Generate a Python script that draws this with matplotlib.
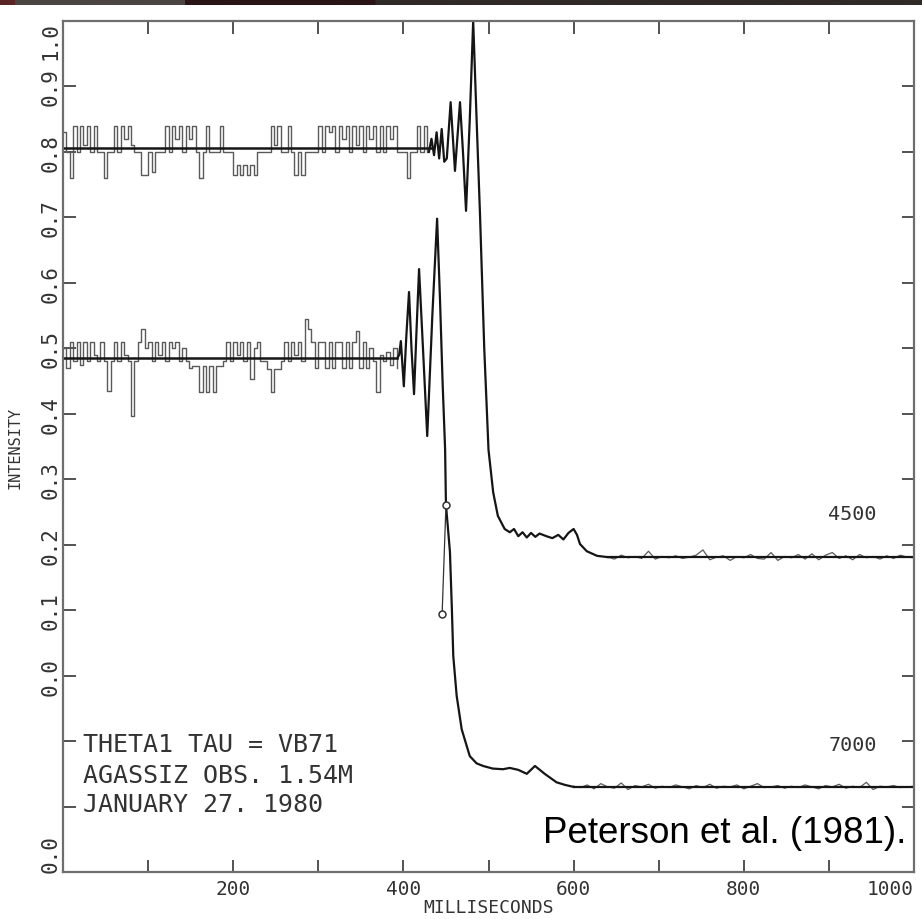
import numpy as np
import matplotlib
matplotlib.use("Agg")
import matplotlib.pyplot as plt

# ---------------- data ----------------
# vertical offset of the 4500 trace (its "0.0" sits at 0.3 of the 7000 trace)
OFFSET_4500 = 0.3

# pre-occultation step data, 4 ms sampling starting at 0 ms
T0_STEP = 0.0
DT_STEP = 4.0
pre_4500 = [0.83, 0.80, 0.76, 0.84, 0.80, 0.84, 0.81, 0.84, 0.80, 0.84,
            0.80, 0.80, 0.76, 0.80, 0.80, 0.84, 0.80, 0.84, 0.82, 0.84,
            0.81, 0.80, 0.80, 0.765, 0.765, 0.80, 0.77, 0.80, 0.80, 0.80,
            0.84, 0.80, 0.84, 0.82, 0.84, 0.80, 0.84, 0.82, 0.84, 0.80,
            0.76, 0.80, 0.84, 0.80, 0.80, 0.80, 0.84, 0.80, 0.80, 0.80,
            0.765, 0.78, 0.765, 0.78, 0.765, 0.78, 0.765, 0.80, 0.80, 0.80,
            0.80, 0.84, 0.81, 0.84, 0.80, 0.80, 0.84, 0.80, 0.765, 0.80,
            0.765, 0.80, 0.80, 0.80, 0.80, 0.84, 0.80, 0.84, 0.83, 0.84,
            0.80, 0.84, 0.82, 0.84, 0.80, 0.84, 0.81, 0.84, 0.80, 0.84,
            0.82, 0.84, 0.80, 0.84, 0.80, 0.84, 0.82, 0.84, 0.80, 0.80,
            0.80, 0.76, 0.80, 0.80, 0.84, 0.80, 0.84, 0.80]
pre_7000 = [0.80, 0.77, 0.81, 0.78, 0.81, 0.775, 0.81, 0.78, 0.81, 0.79,
            0.78, 0.81, 0.78, 0.735, 0.78, 0.81, 0.78, 0.81, 0.79, 0.78,
            0.697, 0.78, 0.81, 0.83, 0.80, 0.81, 0.78, 0.81, 0.79, 0.81,
            0.78, 0.81, 0.80, 0.81, 0.78, 0.80, 0.78, 0.77, 0.773, 0.773,
            0.733, 0.773, 0.733, 0.773, 0.733, 0.773, 0.773, 0.78, 0.81, 0.78,
            0.81, 0.79, 0.81, 0.78, 0.81, 0.753, 0.80, 0.81, 0.78, 0.78,
            0.768, 0.733, 0.768, 0.768, 0.78, 0.81, 0.78, 0.81, 0.79, 0.81,
            0.78, 0.845, 0.83, 0.81, 0.77, 0.81, 0.81, 0.77, 0.81, 0.77,
            0.81, 0.81, 0.77, 0.81, 0.77, 0.81, 0.826, 0.77, 0.81, 0.77,
            0.80, 0.78, 0.733, 0.79, 0.78, 0.795, 0.775, 0.80, 0.77]

# fitted pre-occultation levels and where they end (ms)
level_4500 = 0.806
level_end_4500 = 435.0
level_7000 = 0.785
level_end_7000 = 393.0

# fringe / disappearance traces (ms, intensity)
fringe_t_4500 = [430, 433, 436, 439, 442, 445, 448, 451, 455.5, 460.6, 466.5,
                 470, 473.6, 478, 482, 486, 490, 495, 500, 505.5, 511, 519,
                 525, 530, 535, 540, 545, 550, 555, 560, 568, 575, 582, 588,
                 594, 600, 604, 607.5, 615.5, 627.5, 640]
fringe_v_4500 = [0.80, 0.82, 0.795, 0.83, 0.79, 0.835, 0.785, 0.79, 0.876, 0.771, 0.876,
                 0.80, 0.71, 0.85, 1.0, 0.85, 0.705, 0.50, 0.345, 0.280, 0.244, 0.224,
                 0.219, 0.224, 0.213, 0.219, 0.211, 0.218, 0.212, 0.217, 0.213, 0.210, 0.215, 0.208,
                 0.218, 0.224, 0.215, 0.201, 0.190, 0.183, 0.181]
fringe_t_7000 = [393, 395, 397, 400.5, 403.5, 406.6, 409.5, 412.5, 415.5, 418.4,
                 423, 428, 434, 439.6, 443, 446, 449, 450, 454.7, 457, 458.6,
                 462.6, 468.5, 478, 486, 493.6, 505, 517, 525, 535, 545, 554.6,
                 566, 580, 590, 600]
fringe_v_7000 = [0.785, 0.79, 0.811, 0.742, 0.82, 0.886, 0.80, 0.730, 0.83, 0.921,
                 0.80, 0.666, 0.85, 0.998, 0.875, 0.75, 0.646, 0.561, 0.489, 0.40, 0.330,
                 0.269, 0.218, 0.177, 0.166, 0.162, 0.158, 0.157, 0.159, 0.156, 0.150, 0.162,
                 0.150, 0.137, 0.133, 0.130]

# post-occultation noise, 8 ms sampling
T0_POST_4500 = 640.0
post_4500 = [0.181, 0.178, 0.184, 0.180, 0.182, 0.179, 0.190, 0.178, 0.182, 0.180,
             0.183, 0.179, 0.181, 0.184, 0.192, 0.177, 0.181, 0.183, 0.176, 0.182,
             0.180, 0.185, 0.179, 0.178, 0.188, 0.176, 0.182, 0.180, 0.185, 0.178,
             0.186, 0.177, 0.184, 0.188, 0.179, 0.183, 0.177, 0.185, 0.180, 0.182,
             0.178, 0.183, 0.179, 0.184, 0.181, 0.180]
T0_POST_7000 = 600.0
post_7000 = [0.131, 0.129, 0.133, 0.127, 0.135, 0.130, 0.128, 0.136, 0.126, 0.132,
             0.130, 0.134, 0.128, 0.131, 0.129, 0.133, 0.130, 0.127, 0.132, 0.129,
             0.134, 0.128, 0.131, 0.130, 0.133, 0.127, 0.131, 0.135, 0.129, 0.130,
             0.132, 0.128, 0.131, 0.129, 0.133, 0.130, 0.127, 0.132, 0.130, 0.134,
             0.128, 0.131, 0.129, 0.137, 0.126, 0.131, 0.130, 0.132, 0.129, 0.130,
             0.131]
DT_POST = 8.0
post_level_4500 = 0.181
post_level_7000 = 0.130

# the two marked points on the 7000 trace
mark_t = [450.0, 445.5]
mark_v = [0.561, 0.394]

ytick_labels = ["0.0", "", "", "0.0", "0.1", "0.2", "0.3", "0.4", "0.5",
                "0.6", "0.7", "0.8", "0.9", "1.0"]
xtick_major = [200, 400, 600, 800, 1000]
xtick_minor = [100, 300, 500, 700, 900]
info_lines = ["THETA1 TAU = VB71", "AGASSIZ OBS. 1.54M", "JANUARY 27. 1980"]
info_y = [0.1955, 0.148, 0.104]

# ---------------- figure ----------------
W, H = 922, 920
fig = plt.figure(figsize=(W / 100, H / 100), dpi=100)
fig.patch.set_facecolor("white")

# dark strip at the very top (slide background)
bar = fig.add_axes([0, 1 - 6 / H, 1, 6 / H])
bar.axis("off")
strip = np.zeros((1, W, 3))
segs = [(0, 15, "#5a2424"), (15, 185, "#4b4542"), (185, 375, "#2b1416"), (375, W, "#2f2927")]
for a, b, c in segs:
    strip[0, a:b] = matplotlib.colors.to_rgb(c)
bar.imshow(strip, aspect="auto", extent=(0, 1, 0, 1))

ax = fig.add_axes([63 / W, 47 / H, 851 / W, 851 / H])
ax.set_xlim(0, 1000)
ax.set_ylim(0, 1.3)

data_c = "#5a5a5a"
fit_c = "#151515"
mono = "DejaVu Sans Mono"

def step_t(vals, t0, dt):
    return t0 + dt * np.arange(len(vals))

# 4500 trace
t = step_t(pre_4500, T0_STEP, DT_STEP)
ax.plot(t, np.array(pre_4500) + OFFSET_4500, drawstyle="steps-post", color=data_c, lw=1.0)
ax.plot([0, level_end_4500], [level_4500 + OFFSET_4500] * 2, color=fit_c, lw=1.8)
ax.plot(fringe_t_4500, np.array(fringe_v_4500) + OFFSET_4500, color=fit_c, lw=1.6)
tp = step_t(post_4500, T0_POST_4500, DT_POST)
ax.plot(tp, np.array(post_4500) + OFFSET_4500, color=data_c, lw=0.9)
ax.plot([fringe_t_4500[-1], 1000], [post_level_4500 + OFFSET_4500] * 2, color=fit_c, lw=1.6)

# 7000 trace
t = step_t(pre_7000, T0_STEP, DT_STEP)
ax.plot(t, pre_7000, drawstyle="steps-post", color=data_c, lw=1.0)
ax.plot([0, level_end_7000], [level_7000] * 2, color=fit_c, lw=1.8)
ax.plot(fringe_t_7000, fringe_v_7000, color=fit_c, lw=1.6)
tp = step_t(post_7000, T0_POST_7000, DT_POST)
ax.plot(tp, post_7000, color=data_c, lw=0.9)
ax.plot([fringe_t_7000[-1], 1000], [post_level_7000] * 2, color=fit_c, lw=1.6)
ax.plot(mark_t, mark_v, color="#333333", lw=0.9, marker="o", ms=5,
        mfc="white", mec="#333333", mew=1.1)

# axes styling
for s in ax.spines.values():
    s.set_color("#6e6e6e")
    s.set_linewidth(1.6)

ax.set_yticks(np.round(np.arange(0, 1.31, 0.1), 1))
ax.set_yticklabels(ytick_labels, rotation=90, family=mono, fontsize=15, color="#333333")
for lab in ax.get_yticklabels():
    lab.set_va("center")
ax.get_yticklabels()[0].set_va("bottom")
ax.get_yticklabels()[-1].set_va("top")

ax.set_xticks(xtick_major)
ax.set_xticks(xtick_minor, minor=True)
ax.set_xticklabels([str(v) for v in xtick_major], family=mono, fontsize=14, color="#333333")
ax.get_xticklabels()[-1].set_ha("right")

ax.tick_params(axis="both", which="both", direction="in", length=9, width=1.3,
               color="#444444", top=True, right=True)
ax.tick_params(axis="y", pad=2)
ax.tick_params(axis="x", pad=5)

ax.set_xlabel("MILLISECONDS", family=mono, fontsize=13, color="#333333", va="center")
ax.xaxis.set_label_coords(0.5, -(908 - 873) / 851)
ax.set_ylabel("INTENSITY", family=mono, fontsize=11, color="#333333", va="center")
ax.yaxis.set_label_coords((15 - 63) / 851, 0.5)

# annotations
for line, yv in zip(info_lines, info_y):
    ax.text(23.5, yv, line, family=mono, fontsize=18,
            color="#333333", ha="left", va="center")
ax.text(956.5, 0.547, "4500", family=mono, fontsize=14.5, color="#333333", ha="right", va="center")
ax.text(956.5, 0.1955, "7000", family=mono, fontsize=14.5, color="#333333", ha="right", va="center")
ax.text(991.5, 0.061, "Peterson et al. (1981).", family="Liberation Sans", fontsize=26.5,
        color="black", ha="right", va="center")

fig.savefig("out.png", dpi=100, facecolor="white")
